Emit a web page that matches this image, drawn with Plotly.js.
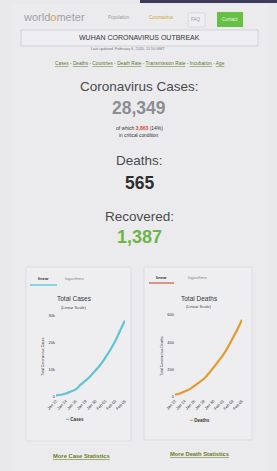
<!DOCTYPE html>
<html><head><meta charset="utf-8">
<script src="https://cdn.plot.ly/plotly-3.0.1.min.js"></script>
<style>html,body{margin:0;padding:0;background:#e9e9ec;}#chart{width:277px;height:471px;}</style>
</head><body><div id="chart"></div>
<script>
// ---- data ----
const dates = ["Jan 22","Jan 23","Jan 24","Jan 25","Jan 26","Jan 27","Jan 28","Jan 29","Jan 30","Jan 31","Feb 01","Feb 02","Feb 03","Feb 04","Feb 05"];
const totalCases = [580,845,1317,2015,2800,4581,6058,7813,9823,11950,14553,17391,20630,24554,28349];
const totalDeaths = [17,25,41,56,80,106,132,170,213,259,304,362,426,492,565];
const tickDates = ["Jan 22","Jan 24","Jan 26","Jan 28","Jan 30","Feb 01","Feb 03","Feb 05"];
const casesTicks = [0,10000,20000,30000];
const casesTickText = ["0","10k","20k","30k"];
const deathsTicks = [0,200,400,600];
const deathsTickText = ["0","200","400","600"];
const seriesNames = ["Cases","Deaths"];
const seriesColors = ["#5ec4d6","#e59a2e"];
const headline = {cases:"28,349", critical:"3,863", criticalPct:"(14%)", deaths:"565", recovered:"1,387"};

// ---- layout helpers ----
const W=277,H=471;
const FONT='Liberation Sans, Arial, sans-serif';
const X=x=>x/W, Y=y=>1-y/H;
const ann=(x,y,text,size,color,opts={})=>Object.assign({xref:'paper',yref:'paper',x:X(x),y:Y(y),text:text,showarrow:false,xanchor:'center',yanchor:'middle',font:{family:FONT,size:size,color:color}},opts);
const rect=(x0,y0,x1,y1,fill,line,lw)=>({type:'rect',xref:'paper',yref:'paper',x0:X(x0),x1:X(x1),y0:Y(y1),y1:Y(y0),fillcolor:fill,line:{color:line||'rgba(0,0,0,0)',width:lw||0},layer:'below'});
const hline=(x0,x1,y,color,w)=>({type:'line',xref:'paper',yref:'paper',x0:X(x0),x1:X(x1),y0:Y(y),y1:Y(y),line:{color:color,width:w}});

const traces=[
 {x:dates,y:totalCases,type:'scatter',mode:'lines',name:seriesNames[0],line:{color:seriesColors[0],width:2.2,shape:'spline'},xaxis:'x',yaxis:'y'},
 {x:dates,y:totalDeaths,type:'scatter',mode:'lines',name:seriesNames[1],line:{color:seriesColors[1],width:2.2,shape:'spline'},xaxis:'x2',yaxis:'y2'}
];

const tickFont={family:FONT,size:4,color:'#333'};
const axX=(d0,d1)=>({domain:[X(d0),X(d1)],type:'category',range:[0,14],tickvals:tickDates,ticktext:tickDates,tickangle:-45,tickfont:tickFont,showgrid:false,zeroline:false,showline:false,ticks:'',fixedrange:true});
const axY=(d0,d1,rng,tv,tt,title)=>({domain:[Y(d1),Y(d0)],range:rng,tickvals:tv,ticktext:tt,tickfont:tickFont,showgrid:false,zeroline:false,showline:false,ticks:'',title:{text:title,font:{family:FONT,size:3.5,color:'#333'},standoff:4}});

const legendItem=(x,y,i)=>ann(x,y,'<span style="color:'+seriesColors[i]+'"><b>━</b></span> <b>'+seriesNames[i]+'</b>',4.5,'#333333');

const layout={
 width:W,height:H,margin:{l:0,r:0,t:0,b:0},
 paper_bgcolor:'#e9e9ec',plot_bgcolor:'rgba(0,0,0,0)',
 showlegend:false,
 xaxis:Object.assign(axX(56,125),{anchor:'y'}),
 yaxis:Object.assign(axY(316,397,[0,30000],casesTicks,casesTickText,'Total Coronavirus Cases'),{anchor:'x'}),
 xaxis2:Object.assign(axX(175,242),{anchor:'y2'}),
 yaxis2:Object.assign(axY(315,397,[0,600],deathsTicks,deathsTickText,'Total Coronavirus Deaths'),{anchor:'x2'}),
 shapes:[
  rect(10,4,268,471,'#ebebee'),
  rect(140,0,277,3,'#3d3a5c'),
  rect(188,13,205,27,'#efeff1','#cfcfd4',0.6),
  rect(217,12,243,27,'#66c046'),
  rect(21,30,258,46,'#efeff2','#c9c9ce',0.7),
  rect(26,267,131,441,'#eeeef1','#d6d6da',0.7),
  rect(144,267,252,440,'#eeeef1','#d6d6da',0.7),
  hline(30,57,285,'#68c8da',1.5),
  hline(149,174,283,'#e0705a',1.5)
 ],
 annotations:[
  ann(54,17,'<span style="color:#a0a0a5">world</span><span style="color:#d8a53a">o</span><span style="color:#a0a0a5">meter</span>',11,'#a0a0a5'),
  ann(119,18,'Population',4.5,'#9a9a9a'),
  ann(161,18,'Coronavirus',4.5,'#c9a82c'),
  ann(196,20,'FAQ',4.5,'#9a9a9a'),
  ann(230,20,'Contact',4.5,'#eaf6e2'),
  ann(139,38,'WUHAN CORONAVIRUS OUTBREAK',7,'#333333'),
  ann(128,49,'Last updated: February 6, 2020, 11:50 GMT',3.8,'#777777'),
  ann(140,64,'<u>Cases</u> - <u>Deaths</u> - <u>Countries</u> - <u>Death Rate</u> - <u>Transmission Rate</u> - <u>Incubation</u> - <u>Age</u>',4.8,'#5a7a2a'),
  ann(139,87,'Coronavirus Cases:',13.5,'#4a4a4c'),
  ann(139,108,'<b>'+headline.cases+'</b>',17.5,'#8d8d92'),
  ann(139,128,'of which <b><span style="color:#d9412c">'+headline.critical+'</span></b> '+headline.criticalPct,5,'#333333'),
  ann(139,136,'in critical condition',4.8,'#333333'),
  ann(139,161,'Deaths:',13.5,'#4a4a4c'),
  ann(139,183,'<b>'+headline.deaths+'</b>',17.5,'#2e2e30'),
  ann(139,216,'Recovered:',13.5,'#4a4a4c'),
  ann(139,237,'<b>'+headline.recovered+'</b>',18,'#6fb44a'),
  ann(43,278,'<b>linear</b>',4,'#333333'),
  ann(74,278,'logarithmic',4,'#888888'),
  ann(161,277,'<b>linear</b>',4,'#333333'),
  ann(197,277,'logarithmic',4,'#888888'),
  ann(74,298,'Total Cases',6.5,'#333333'),
  ann(74,307,'(Linear Scale)',4,'#444444'),
  ann(199,298,'Total Deaths',6.5,'#333333'),
  ann(199,306,'(Linear Scale)',4,'#444444'),
  legendItem(74,419,0),
  legendItem(199,420,1),
  ann(81,456,'<b><u>More Case Statistics</u></b>',5.8,'#6a7a25'),
  ann(199,454,'<b><u>More Death Statistics</u></b>',5.8,'#6a7a25')
 ]
};
Plotly.newPlot('chart',traces,layout,{staticPlot:true,displayModeBar:false});
</script></body></html>
